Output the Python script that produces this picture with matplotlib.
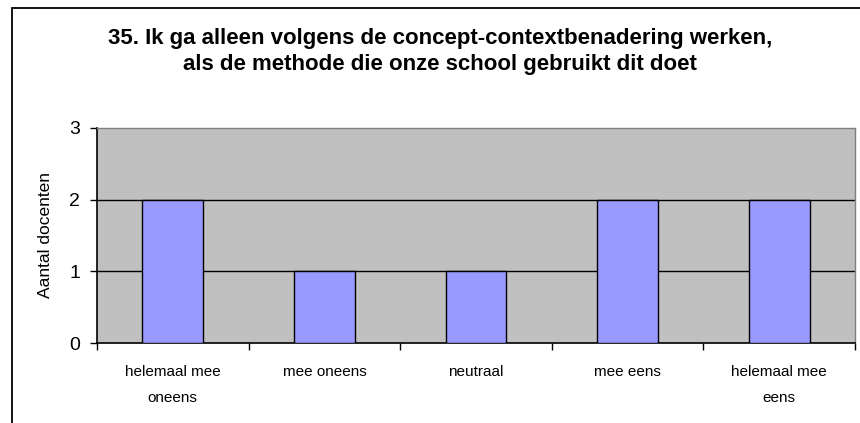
import matplotlib
matplotlib.use("Agg")
import matplotlib.pyplot as plt
from matplotlib.patches import Rectangle
import numpy as np

# Data
categories = ["helemaal mee\noneens", "mee oneens", "neutraal", "mee eens", "helemaal mee\neens"]
counts = [2, 1, 1, 2, 2]
title = "35. Ik ga alleen volgens de concept-contextbenadering werken,\nals de methode die onze school gebruikt dit doet"
ylabel = "Aantal docenten"

plt.rcParams['font.family'] = ['Liberation Sans', 'DejaVu Sans']

fig = plt.figure(figsize=(8.6, 4.23), dpi=100)
W, H = 860, 423

# outer chart border (left and top visible, rest cropped)
fig.patches.append(Rectangle((12 / W, -0.1), 1.2, 1 - 8 / H + 0.1, transform=fig.transFigure,
                             fill=False, edgecolor='black', linewidth=1.3, zorder=0))

ax = fig.add_axes([97 / W, 80 / H, 758 / W, 215 / H])
ax.set_facecolor('#C0C0C0')

x = np.arange(len(categories))
ax.bar(x, counts, width=0.4, color='#9999FF', edgecolor='black', linewidth=1.0, zorder=3)

ax.set_xlim(-0.5, len(categories) - 0.5)
ax.set_ylim(0, 3)

# gridlines
for yv in [1, 2]:
    ax.axhline(yv, color='black', linewidth=1.0, zorder=1)

ax.set_yticks([0, 1, 2, 3])
ax.set_yticklabels(['0', '1', '2', '3'], fontsize=14)
ax.tick_params(axis='y', direction='out', length=5, width=1, pad=7)

ax.set_xticks(np.arange(len(categories) + 1) - 0.5)
ax.set_xticklabels([])
ax.tick_params(axis='x', which='major', direction='out', length=5, width=1)
ax.set_xticks(x, minor=True)
ax.set_xticklabels(categories, minor=True, fontsize=11, linespacing=2.05)
ax.tick_params(axis='x', which='minor', length=0, pad=16)

for side in ['top', 'right']:
    ax.spines[side].set_color('#808080')
    ax.spines[side].set_linewidth(1.0)
for side in ['left', 'bottom']:
    ax.spines[side].set_color('black')
    ax.spines[side].set_linewidth(1.2)

ax.set_ylabel(ylabel, fontsize=12.5)
ax.yaxis.set_label_coords(-0.058, 0.5)

fig.text(440 / W, 1 - 28 / H, title, ha='center', va='top', fontsize=16,
         fontweight='bold', linespacing=1.32)

fig.savefig("out.png", dpi=100)
